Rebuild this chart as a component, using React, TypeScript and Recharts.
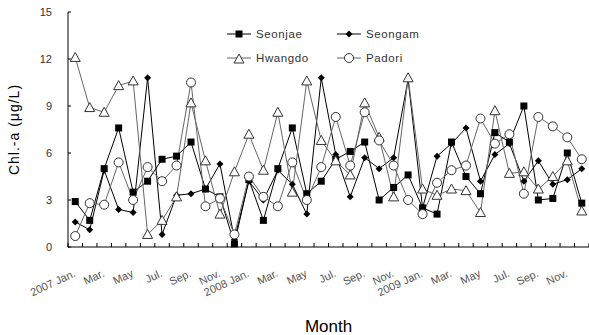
import { LineChart, Line, XAxis, YAxis, Label } from "recharts";

// 2007.01 – 2009.12, one row per month
const months = [
  "2007-01", "2007-02", "2007-03", "2007-04", "2007-05", "2007-06",
  "2007-07", "2007-08", "2007-09", "2007-10", "2007-11", "2007-12",
  "2008-01", "2008-02", "2008-03", "2008-04", "2008-05", "2008-06",
  "2008-07", "2008-08", "2008-09", "2008-10", "2008-11", "2008-12",
  "2009-01", "2009-02", "2009-03", "2009-04", "2009-05", "2009-06",
  "2009-07", "2009-08", "2009-09", "2009-10", "2009-11", "2009-12",
];

const seonjae = [
  2.9, 1.7, 5.0, 7.6, 3.5, 4.2, 5.6, 5.8, 6.7, 3.7, 3.2, 0.2,
  4.3, 1.7, 5.0, 7.6, 3.4, 4.2, 5.6, 6.1, 6.7, 3.0, 3.8, 4.6,
  2.5, 2.1, 6.7, 4.5, 3.4, 7.3, 6.7, 9.0, 3.0, 3.1, 6.0, 2.8,
];
const seongam = [
  1.6, 1.1, 4.9, 2.4, 2.2, 10.8, 0.8, 3.3, 3.4, 3.7, 5.3, 0.5,
  4.2, 3.0, 4.9, 4.0, 2.1, 10.8, 5.9, 3.2, 5.7, 5.0, 5.7, 10.7,
  2.5, 5.8, 6.6, 7.6, 4.2, 5.9, 6.6, 4.2, 5.5, 4.0, 4.3, 5.0,
];
const hwangdo = [
  12.1, 8.9, 8.6, 10.3, 10.6, 0.8, 1.7, 3.2, 9.2, 5.5, 2.1, 4.8,
  7.2, 4.9, 8.6, 3.5, 10.6, 6.8, 5.5, 4.6, 9.2, 7.0, 3.2, 10.8,
  3.7, 3.3, 3.7, 3.6, 2.2, 8.7, 4.7, 4.8, 3.7, 4.5, 5.5, 2.3,
];
const padori = [
  0.7, 2.8, 2.7, 5.4, 3.0, 5.1, 4.2, 5.2, 10.5, 2.6, 3.1, 0.8,
  4.5, 3.2, 2.6, 5.4, 3.0, 5.1, 8.3, 5.2, 8.6, 6.8, 5.2, 3.0,
  2.1, 4.1, 4.9, 5.2, 8.2, 6.6, 7.2, 3.4, 8.3, 7.7, 7.0, 5.6,
];

// labels every other month, year shown with January
const tickLabels = [
  "2007 Jan.", "Mar.", "May", "Jul.", "Sep.", "Nov.",
  "2008 Jan.", "Mar.", "May", "Jul.", "Sep.", "Nov.",
  "2009 Jan.", "Mar.", "May", "Jul.", "Sep.", "Nov.",
];
const yTicks = [0, 3, 6, 9, 12, 15];

const data = months.map((m, i) => ({
  idx: i,
  month: m,
  seonjae: seonjae[i],
  seongam: seongam[i],
  hwangdo: hwangdo[i],
  padori: padori[i],
}));

const CHART_W = 589;
const CHART_H = 335;
const Y_AXIS_W = 68;
// tick marks sit between months; labels are centred on the month itself
const boundaryTicks = [...months.map((_, i) => i - 0.5), months.length - 0.5];
const HALF_BAND = (CHART_W - Y_AXIS_W) / months.length / 2;

const FONT = "'Liberation Sans', Arial, sans-serif";
const GRAY_LINE = "#666";
const MARK_EDGE = "#333";

const squareDot = (p: any) => (
  <rect key={`sq-${p.index}`} x={p.cx - 3.5} y={p.cy - 3.5} width={7} height={7} fill="#000" />
);
const diamondDot = (p: any) => (
  <polygon
    key={`dm-${p.index}`}
    points={`${p.cx},${p.cy - 3.5} ${p.cx + 3.5},${p.cy} ${p.cx},${p.cy + 3.5} ${p.cx - 3.5},${p.cy}`}
    fill="#000"
  />
);
const triangleDot = (p: any) => (
  <polygon
    key={`tr-${p.index}`}
    points={`${p.cx},${p.cy - 5} ${p.cx + 5},${p.cy + 4} ${p.cx - 5},${p.cy + 4}`}
    fill="#fff"
    stroke={MARK_EDGE}
    strokeWidth={1}
  />
);
const circleDot = (p: any) => (
  <circle key={`ci-${p.index}`} cx={p.cx} cy={p.cy} r={4.5} fill="#fff" stroke={MARK_EDGE} strokeWidth={1} />
);

const monthTick = (props: any) => {
  const { x, y, payload } = props;
  const k = Math.round(payload.value + 0.5);
  if (k % 2 !== 0 || k >= months.length) return <g key={`t-${payload.value}`} />;
  const ax = x + HALF_BAND + 1;
  const ay = y + 33;
  return (
    <text
      key={`t-${payload.value}`}
      x={ax}
      y={ay}
      transform={`rotate(-25, ${ax}, ${ay})`}
      textAnchor="end"
      fontSize={11}
      fontFamily={FONT}
      fill="#555"
      style={{ whiteSpace: "pre" }}
    >
      {tickLabels[k / 2]}
    </text>
  );
};

function LegendIcon({ kind }: { kind: string }) {
  const stroke = kind === "square" || kind === "diamond" ? "#000" : GRAY_LINE;
  const p = { cx: 12, cy: 6, index: 0 };
  return (
    <svg width={24} height={12} style={{ display: "block" }}>
      <line x1={0} y1={6} x2={24} y2={6} stroke={stroke} strokeWidth={1} />
      {kind === "square" && squareDot(p)}
      {kind === "diamond" && diamondDot(p)}
      {kind === "triangle" && triangleDot({ ...p, cy: 7 })}
      {kind === "circle" && circleDot(p)}
    </svg>
  );
}

const legendItems = [
  { name: "Seonjae", kind: "square" },
  { name: "Seongam", kind: "diamond" },
  { name: "Hwangdo", kind: "triangle" },
  { name: "Padori", kind: "circle" },
];

function ChlLegend() {
  return (
    <div
      style={{
        position: "absolute",
        left: 227,
        top: 27,
        display: "grid",
        gridTemplateColumns: "110px 110px",
        rowGap: 11,
        fontFamily: FONT,
        fontSize: 11.5,
        color: "#333",
        letterSpacing: 0.6,
      }}
    >
      {legendItems.map((it) => (
        <div key={it.name} style={{ display: "flex", alignItems: "center", height: 13 }}>
          <LegendIcon kind={it.kind} />
          <span style={{ marginLeft: 5 }}>{it.name}</span>
        </div>
      ))}
    </div>
  );
}

export default function App() {
  return (
    <div style={{ position: "absolute", left: 0, top: 0, width: CHART_W, height: CHART_H, background: "#fff" }}>
      <LineChart width={CHART_W} height={CHART_H} data={data} margin={{ top: 12, right: 0, bottom: 0, left: 0 }}>
        <XAxis
          dataKey="idx"
          type="number"
          domain={[-0.5, months.length - 0.5]}
          allowDataOverflow
          ticks={boundaryTicks}
          interval={0}
          tickSize={-4}
          tickMargin={0}
          height={88}
          axisLine={{ stroke: "#000", strokeWidth: 1.2 }}
          tickLine={{ stroke: "#000", strokeWidth: 1 }}
          tick={monthTick}
        >
          <Label value="Month" position="insideBottom" offset={3} fontSize={17} fontFamily={FONT} fill="#000" />
        </XAxis>
        <YAxis
          domain={[0, 15]}
          ticks={yTicks}
          interval={0}
          width={Y_AXIS_W}
          tickSize={-3}
          tickMargin={19}
          axisLine={{ stroke: "#000", strokeWidth: 1 }}
          tickLine={{ stroke: "#000", strokeWidth: 1 }}
          tick={{ fill: "#333", fontSize: 11, fontFamily: FONT }}
        >
          <Label
            value="Chl.-a (μg/L)"
            angle={-90}
            position="insideLeft"
            offset={14}
            fontSize={14}
            fontFamily={FONT}
            fill="#000"
            style={{ textAnchor: "middle", letterSpacing: 1 }}
          />
        </YAxis>
        <Line dataKey="seonjae" name="Seonjae" stroke="#000" strokeWidth={1} dot={squareDot} activeDot={false} isAnimationActive={false} />
        <Line dataKey="seongam" name="Seongam" stroke="#000" strokeWidth={1} dot={diamondDot} activeDot={false} isAnimationActive={false} />
        <Line dataKey="hwangdo" name="Hwangdo" stroke={GRAY_LINE} strokeWidth={1} dot={triangleDot} activeDot={false} isAnimationActive={false} />
        <Line dataKey="padori" name="Padori" stroke={GRAY_LINE} strokeWidth={1} dot={circleDot} activeDot={false} isAnimationActive={false} />
      </LineChart>
      <ChlLegend />
    </div>
  );
}
